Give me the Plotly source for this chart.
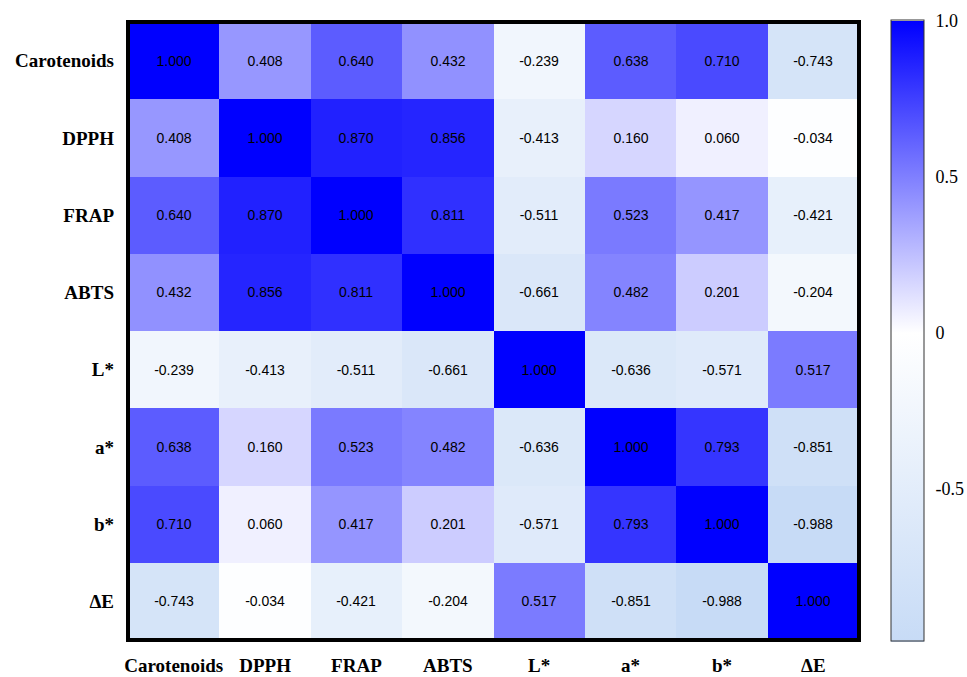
import plotly.graph_objects as go

# Variables in the correlation matrix
labels = ["Carotenoids", "DPPH", "FRAP", "ABTS", "L*", "a*", "b*", "ΔE"]

# Pearson correlation coefficients, one row per variable
r_carotenoids = [1.000, 0.408, 0.640, 0.432, -0.239, 0.638, 0.710, -0.743]
r_dpph = [0.408, 1.000, 0.870, 0.856, -0.413, 0.160, 0.060, -0.034]
r_frap = [0.640, 0.870, 1.000, 0.811, -0.511, 0.523, 0.417, -0.421]
r_abts = [0.432, 0.856, 0.811, 1.000, -0.661, 0.482, 0.201, -0.204]
r_l = [-0.239, -0.413, -0.511, -0.661, 1.000, -0.636, -0.571, 0.517]
r_a = [0.638, 0.160, 0.523, 0.482, -0.636, 1.000, 0.793, -0.851]
r_b = [0.710, 0.060, 0.417, 0.201, -0.571, 0.793, 1.000, -0.988]
r_de = [-0.743, -0.034, -0.421, -0.204, 0.517, -0.851, -0.988, 1.000]

matrix = [r_carotenoids, r_dpph, r_frap, r_abts, r_l, r_a, r_b, r_de]

cbar_vals = [-0.5, 0, 0.5, 1.0]
cbar_text = ["-0.5", "0", "0.5", "1.0"]

zmin = min(min(r) for r in matrix)
zmax = 1.0
mid = (0 - zmin) / (zmax - zmin)

colorscale = [
    [0.0, "rgb(199,219,246)"],
    [mid, "rgb(255,255,255)"],
    [1.0, "rgb(0,0,255)"],
]

serif = "Liberation Serif, Times New Roman, serif"
bold_labels = [f"<b>{s}</b>" for s in labels]

fig = go.Figure(
    go.Heatmap(
        z=matrix,
        x=labels,
        y=labels,
        zmin=zmin,
        zmax=zmax,
        colorscale=colorscale,
        texttemplate="%{z:.3f}",
        textfont=dict(family="Liberation Sans, Arial", size=14, color="black"),
        xgap=0,
        ygap=0,
        colorbar=dict(
            x=1.0438,
            xanchor="left",
            xpad=0,
            ypad=0,
            y=0.5,
            yanchor="middle",
            thickness=33,
            lenmode="pixels",
            len=621,
            outlinewidth=1,
            outlinecolor="#333333",
            tickvals=cbar_vals,
            ticktext=cbar_text,
            ticks="outside",
            ticklen=8,
            tickcolor="white",
            tickfont=dict(family=serif, size=18, color="black"),
        ),
    )
)

fig.update_layout(
    width=967,
    height=677,
    margin=dict(l=128, r=108, t=22, b=37, autoexpand=False),
    paper_bgcolor="white",
    plot_bgcolor="white",
    xaxis=dict(
        showgrid=False,
        zeroline=False,
        ticks="",
        automargin=False,
        ticklabelstandoff=12,
        tickmode="array",
        tickvals=labels,
        ticktext=bold_labels,
        tickfont=dict(family=serif, size=19, color="black"),
    ),
    yaxis=dict(
        showgrid=False,
        zeroline=False,
        ticks="",
        automargin=False,
        autorange="reversed",
        ticklabelstandoff=13,
        tickmode="array",
        tickvals=labels,
        ticktext=bold_labels,
        tickfont=dict(family=serif, size=19, color="black"),
    ),
    shapes=[
        dict(
            type="rect",
            xref="paper",
            yref="paper",
            x0=0,
            x1=1,
            y0=0,
            y1=1,
            line=dict(color="black", width=4),
            fillcolor="rgba(0,0,0,0)",
        )
    ],
)

fig.write_html("out.html")
